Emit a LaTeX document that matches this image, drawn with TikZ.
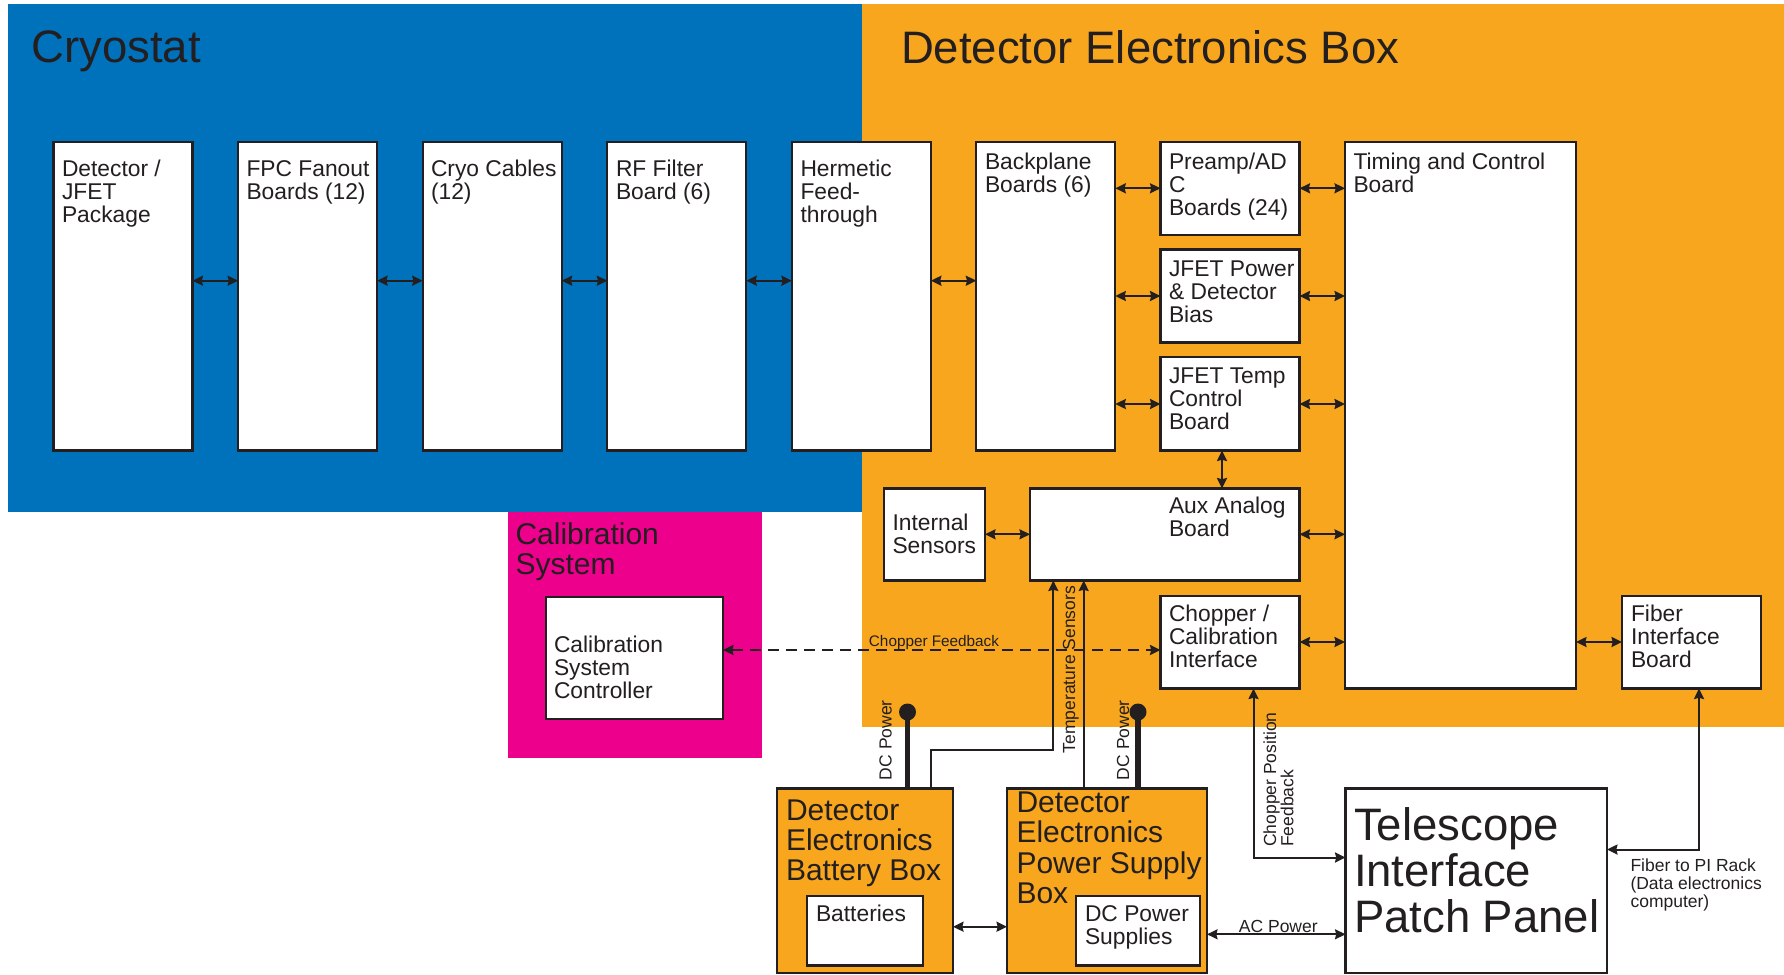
\documentclass[tikz,border=0pt]{standalone}
\usepackage{fontspec}
\setmainfont{Liberation Sans}
\usetikzlibrary{arrows.meta}

\definecolor{cryoblue}{RGB}{0,114,188}
\definecolor{deborange}{RGB}{247,166,30}
\definecolor{calmagenta}{RGB}{236,0,140}
\definecolor{ink}{RGB}{35,31,32}

% left-aligned lines whose reference point is the first baseline
\newcommand{\txtlines}[1]{\vtop{\let\\\cr\halign{##\hfil\cr#1\crcr}}}

\tikzset{
  box/.style={draw=ink, line width=2.3pt, fill=white, rectangle, inner sep=0pt, outer sep=0pt, anchor=north west},
  obox/.style={box, fill=deborange},
  tall/.style={box, minimum width=139pt, minimum height=308.5pt},
  card/.style={box, minimum width=139pt, minimum height=93pt},
  lbl/.style={anchor=base west, inner sep=0pt, outer sep=0pt, text=ink, font=\fontsize{22.8}{23}\selectfont},
  biglbl/.style={lbl, font=\fontsize{30}{30}\selectfont},
  hugelbl/.style={lbl, font=\fontsize{45.5}{46}\selectfont},
  small/.style={lbl, font=\fontsize{17.5}{17.5}\selectfont},
  link/.style={draw=ink, line width=2pt, <->},
  feed/.style={draw=ink, line width=1.8pt, ->},
  pwr/.style={draw=ink, line width=5.5pt},
  dotn/.style={circle, fill=ink, minimum size=17pt, inner sep=0pt, outer sep=0pt},
}

\begin{document}
\begin{tikzpicture}[x=1pt, y=-1pt, >={Stealth[length=10.5pt,width=10pt,inset=1.2pt]}]
\useasboundingbox (0,0) rectangle (1784,974);

% enclosures
\fill[cryoblue] (7.5,4) rectangle (862,512);
\fill[deborange] (862,4) rectangle (1784,726.5);
\fill[calmagenta] (508,512) rectangle (762,758);

% enclosure titles
\node[hugelbl] (tcryo) at (31.5,63) {Cryostat};
\node[hugelbl] (tdeb) at (901,63.3) {Detector Electronics Box};
\node[biglbl] (tcal) at (515.5,544) {\txtlines{Calibration\\System}};

% signal chain through the cryostat
\node[tall] (det) at (53.5,142) {};
\node[tall] (fpc) at (238.1,142) {};
\node[tall] (cab) at (422.7,142) {};
\node[tall] (rff) at (607.3,142) {};
\node[tall] (her) at (791.9,142) {};
\node[tall] (bkp) at (976.3,142) {};

% electronics box boards
\node[card] (pre) at (1160.5,142) {};
\node[card] (jpw) at (1160.5,249.5) {};
\node[card, minimum height=93.5pt] (jtc) at (1160.5,357) {};
\node[box, minimum width=231pt, minimum height=546.5pt] (tcb) at (1345,142) {};
\node[box, minimum width=269.5pt, minimum height=92pt] (aux) at (1030,488.5) {};
\node[box, minimum width=101pt, minimum height=92pt] (ins) at (884,488.5) {};
\node[card, minimum height=92.5pt] (chp) at (1160.5,596) {};
\node[card, minimum height=92.5pt] (fib) at (1622,596) {};

% calibration system
\node[box, minimum width=177pt, minimum height=122pt] (csc) at (546,597) {};

% external boxes
\node[obox, minimum width=176pt, minimum height=184.5pt] (bat) at (777,788.5) {};
\node[box, minimum width=116pt, minimum height=69.5pt] (cells) at (807,896) {};
\node[obox, minimum width=200pt, minimum height=184.5pt] (psb) at (1007,788.5) {};
\node[box, minimum width=124pt, minimum height=69.5pt] (dcs) at (1076,896) {};
\node[box, minimum width=261.5pt, minimum height=184.5pt] (tpp) at (1345.5,788.5) {};

% box texts
\node[lbl] (det-t) at (62,176) {\txtlines{Detector /\\JFET\\Package}};
\node[lbl] (fpc-t) at (246.5,176) {\txtlines{FPC Fanout\\Boards (12)}};
\node[lbl] (cab-t) at (431,176) {\txtlines{Cryo Cables\\(12)}};
\node[lbl] (rff-t) at (616,176) {\txtlines{RF Filter\\Board (6)}};
\node[lbl] (her-t) at (800.5,176) {\txtlines{Hermetic\\Feed-\\through}};
\node[lbl] (bkp-t) at (985,169.5) {\txtlines{Backplane\\Boards (6)}};
\node[lbl] (pre-t) at (1169,169.5) {\txtlines{Preamp/AD\\C\\Boards (24)}};
\node[lbl] (jpw-t) at (1169,276) {\txtlines{JFET Power\\\& Detector\\Bias}};
\node[lbl] (jtc-t) at (1169,383.5) {\txtlines{JFET Temp\\Control\\Board}};
\node[lbl] (tcb-t) at (1353.5,169.5) {\txtlines{Timing and Control\\Board}};
\node[lbl] (aux-t) at (1169,513) {\txtlines{Aux Analog\\Board}};
\node[lbl] (ins-t) at (892.5,530.5) {\txtlines{Internal\\Sensors}};
\node[lbl] (chp-t) at (1169,621.7) {\txtlines{Chopper /\\Calibration\\Interface}};
\node[lbl] (fib-t) at (1631,621.7) {\txtlines{Fiber\\Interface\\Board}};
\node[lbl] (csc-t) at (554,652.7) {\txtlines{Calibration\\System\\Controller}};
\node[lbl] (cells-t) at (816,921.7) {Batteries};
\node[lbl] (dcs-t) at (1085,921.7) {\txtlines{DC Power\\Supplies}};
\node[biglbl] (bat-t) at (786,820.5) {\txtlines{Detector\\Electronics\\Battery Box}};
\node[biglbl, font=\fontsize{30}{30.5}\selectfont] (psb-t) at (1016.5,812) {\txtlines{Detector\\Electronics\\Power Supply\\Box}};
\node[hugelbl] (tpp-t) at (1354,840.7) {\txtlines{Telescope\\Interface\\Patch Panel}};

% data links
\coordinate (ra) at (0,280.7);
\draw[link] (det.east |- ra) -- (fpc.west |- ra);
\draw[link] (fpc.east |- ra) -- (cab.west |- ra);
\draw[link] (cab.east |- ra) -- (rff.west |- ra);
\draw[link] (rff.east |- ra) -- (her.west |- ra);
\draw[link] (her.east |- ra) -- (bkp.west |- ra);

\coordinate (rb) at (0,188.3);
\coordinate (rc) at (0,296);
\coordinate (rd) at (0,404);
\draw[link] (bkp.east |- rb) -- (pre.west |- rb);
\draw[link] (pre.east |- rb) -- (tcb.west |- rb);
\draw[link] (bkp.east |- rc) -- (jpw.west |- rc);
\draw[link] (jpw.east |- rc) -- (tcb.west |- rc);
\draw[link] (bkp.east |- rd) -- (jtc.west |- rd);
\draw[link] (jtc.east |- rd) -- (tcb.west |- rd);

\coordinate (cj) at (1222,0);
\draw[link] (jtc.south -| cj) -- (aux.north -| cj);

\coordinate (re) at (0,534.3);
\draw[link] (ins.east |- re) -- (aux.west |- re);
\draw[link] (aux.east |- re) -- (tcb.west |- re);

\coordinate (rf) at (0,642);
\draw[link] (chp.east |- rf) -- (tcb.west |- rf);
\draw[link] (tcb.east |- rf) -- (fib.west |- rf);

% chopper feedback to the calibration system
\coordinate (rdash) at (0,650);
\draw[link, dash pattern=on 11pt off 7pt] (csc.east |- rdash) -- (chp.west |- rdash);
\node[lbl, anchor=base, font=\fontsize{15.3}{15.3}\selectfont] (cfl) at (934,646.5) {Chopper Feedback};

% temperature sensor lines
\coordinate (tb1) at (930.7,750);
\coordinate (tb2) at (1053.3,750);
\coordinate (tc2) at (1083.7,750);
\draw[feed] (bat.north -| tb1) -- (tb1) -- (tb2) -- (aux.south -| tb2);
\draw[feed] (psb.north -| tc2) -- (aux.south -| tc2);
\node[small, rotate=90] (tsl) at (1075,753.3) {Temperature Sensors};

% DC power feeds
\node[dotn] (dot1) at (907.5,712) {};
\node[dotn] (dot2) at (1138,712) {};
\draw[pwr] (dot1.center) -- (bat.north -| dot1.center);
\draw[pwr] (dot2.center) -- (psb.north -| dot2.center);
\node[small, rotate=90] (dcl1) at (891.5,780) {DC Power};
\node[small, rotate=90] (dcl2) at (1129,780) {DC Power};

% power links
\coordinate (rbp) at (0,926.7);
\draw[link] (bat.east |- rbp) -- (psb.west |- rbp);
\coordinate (rac) at (0,934.3);
\draw[link] (psb.east |- rac) -- (tpp.west |- rac);
\node[small, anchor=base] (acl) at (1278.3,932.5) {AC Power};

% chopper position feedback
\coordinate (cpb) at (1253.5,857.5);
\draw[link] (chp.south -| cpb) -- (cpb) -- (tpp.west |- cpb);
\node[small, rotate=90, font=\fontsize{17.5}{17.3}\selectfont] (cpl) at (1276,846.7) {\txtlines{Chopper Position\\Feedback}};

% fiber to the PI rack
\coordinate (fbb) at (1699,849.5);
\draw[link] (tpp.east |- fbb) -- (fbb) -- (fib.south -| fbb);
\node[small, font=\fontsize{17.5}{18}\selectfont] (fpl) at (1630.5,871.7) {\txtlines{Fiber to PI Rack\\(Data electronics\\computer)}};
\end{tikzpicture}
\end{document}
